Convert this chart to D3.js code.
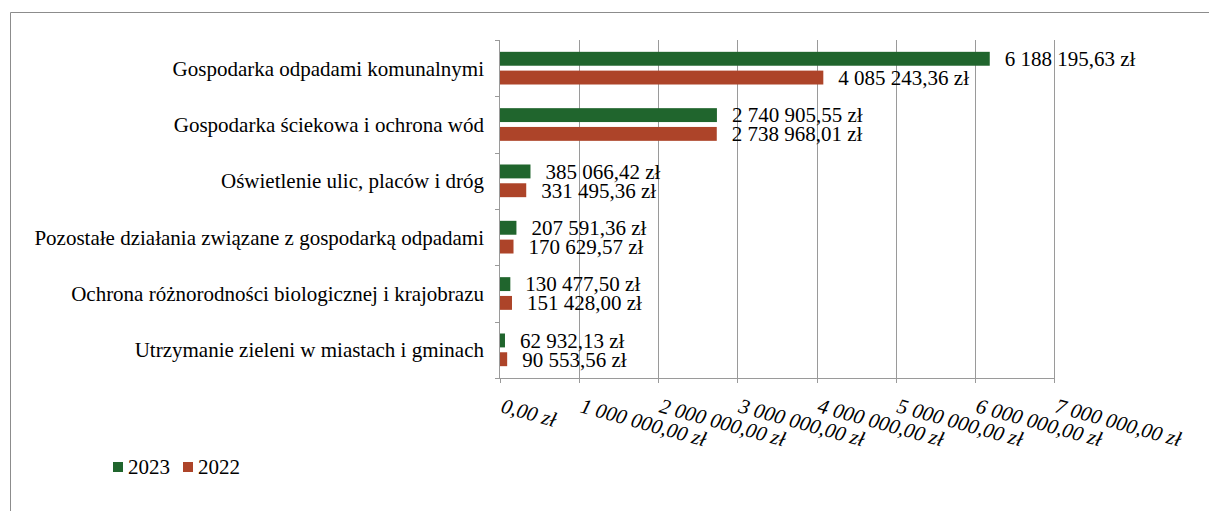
<!DOCTYPE html>
<html>
<head>
<meta charset="utf-8">
<script src="https://cdn.jsdelivr.net/npm/d3@7/dist/d3.min.js"></script>
<style>
  html, body { margin: 0; padding: 0; background: #fff; }
  svg { display: block; }
</style>
</head>
<body>
<svg id="chart" width="1209" height="511" font-family="'Liberation Serif', 'Times New Roman', serif"></svg>
<script>
// Expenditure by category, two years
const categories = [
  "Gospodarka odpadami komunalnymi",
  "Gospodarka ściekowa i ochrona wód",
  "Oświetlenie ulic, placów i dróg",
  "Pozostałe działania związane z gospodarką odpadami",
  "Ochrona różnorodności biologicznej i krajobrazu",
  "Utrzymanie zieleni w miastach i gminach"
];
const values2023 = [6188195.63, 2740905.55, 385066.42, 207591.36, 130477.50, 62932.13];
const values2022 = [4085243.36, 2738968.01, 331495.36, 170629.57, 151428.00, 90553.56];
const seriesNames = ["2023", "2022"];
const tickValues = [0, 1000000, 2000000, 3000000, 4000000, 5000000, 6000000, 7000000];

const colors = { "2023": "#20652d", "2022": "#ad4429" };
const fontSize = 21;

// Polish money format: space thousands, comma decimals
const money = v => {
  const s = v.toFixed(2).split(".");
  const intPart = s[0].replace(/\B(?=(\d{3})+(?!\d))/g, " ");
  return intPart + "," + s[1] + " zł";
};

const svg = d3.select("#chart");

// outer frame (top and left edges)
svg.append("path")
  .attr("d", "M10.5,511 V12.5 H1209")
  .attr("fill", "none").attr("stroke", "#8c8c8c").attr("stroke-width", 1);

const margin = { left: 500, top: 40, right: 1054, bottom: 378 };

const x = d3.scaleLinear().domain([0, 7000000]).range([margin.left, margin.right]);
const y = d3.scaleBand().domain(categories).range([margin.top, margin.bottom]);
const inner = d3.scaleBand().domain(seriesNames).range([0, y.bandwidth()]).paddingInner(0.26).paddingOuter(0.63);

// vertical gridlines
svg.append("g").selectAll("line")
  .data(tickValues.slice(1))
  .join("line")
  .attr("x1", d => Math.round(x(d)) + 0.5).attr("x2", d => Math.round(x(d)) + 0.5)
  .attr("y1", margin.top).attr("y2", margin.bottom)
  .attr("stroke", "#9a9a9a").attr("stroke-width", 1);

// x axis line + ticks
const xg = svg.append("g");
xg.append("line")
  .attr("x1", margin.left).attr("x2", margin.right)
  .attr("y1", margin.bottom + 0.5).attr("y2", margin.bottom + 0.5)
  .attr("stroke", "#9a9a9a");
xg.selectAll("line.tk").data(tickValues).join("line").attr("class", "tk")
  .attr("x1", d => Math.round(x(d)) + 0.5).attr("x2", d => Math.round(x(d)) + 0.5)
  .attr("y1", margin.bottom).attr("y2", margin.bottom + 5)
  .attr("stroke", "#9a9a9a");
xg.selectAll("text").data(tickValues).join("text")
  .attr("transform", d => `translate(${x(d)},${margin.bottom + 34}) rotate(15.5)`)
  .attr("font-size", fontSize).attr("font-style", "italic")
  .text(d => money(d));

// y axis line + ticks at category boundaries
const yg = svg.append("g");
yg.append("line")
  .attr("x1", margin.left - 0.5).attr("x2", margin.left - 0.5)
  .attr("y1", margin.top).attr("y2", margin.bottom)
  .attr("stroke", "#9a9a9a");
const bounds = categories.map(c => y(c)).concat([margin.bottom]);
yg.selectAll("line.tk").data(bounds).join("line").attr("class", "tk")
  .attr("x1", margin.left - 5).attr("x2", margin.left)
  .attr("y1", d => Math.round(d) + 0.5).attr("y2", d => Math.round(d) + 0.5)
  .attr("stroke", "#9a9a9a");
yg.selectAll("text").data(categories).join("text")
  .attr("x", margin.left - 16)
  .attr("y", d => y(d) + y.bandwidth() / 2)
  .attr("dy", "0.35em")
  .attr("text-anchor", "end")
  .attr("font-size", fontSize)
  .text(d => d);

// bars
const rows = [];
categories.forEach((c, i) => {
  rows.push({ cat: c, series: "2023", value: values2023[i] });
  rows.push({ cat: c, series: "2022", value: values2022[i] });
});

svg.append("g").selectAll("rect")
  .data(rows)
  .join("rect")
  .attr("x", x(0))
  .attr("y", d => y(d.cat) + inner(d.series))
  .attr("width", d => x(d.value) - x(0))
  .attr("height", inner.bandwidth())
  .attr("fill", d => colors[d.series]);

// value labels
svg.append("g").selectAll("text")
  .data(rows)
  .join("text")
  .attr("x", d => x(d.value) + 15)
  .attr("y", d => y(d.cat) + inner(d.series) + inner.bandwidth() / 2)
  .attr("dy", "0.35em")
  .attr("font-size", fontSize)
  .text(d => money(d.value));

// legend
const lg = svg.append("g").attr("transform", "translate(113,462)");
const items = lg.selectAll("g").data(seriesNames).join("g")
  .attr("transform", (d, i) => `translate(${i * 70},0)`);
items.append("rect").attr("width", 10).attr("height", 10).attr("fill", d => colors[d]);
items.append("text").attr("x", 15).attr("y", 5).attr("dy", "0.35em").attr("font-size", fontSize).text(d => d);
</script>
</body>
</html>
